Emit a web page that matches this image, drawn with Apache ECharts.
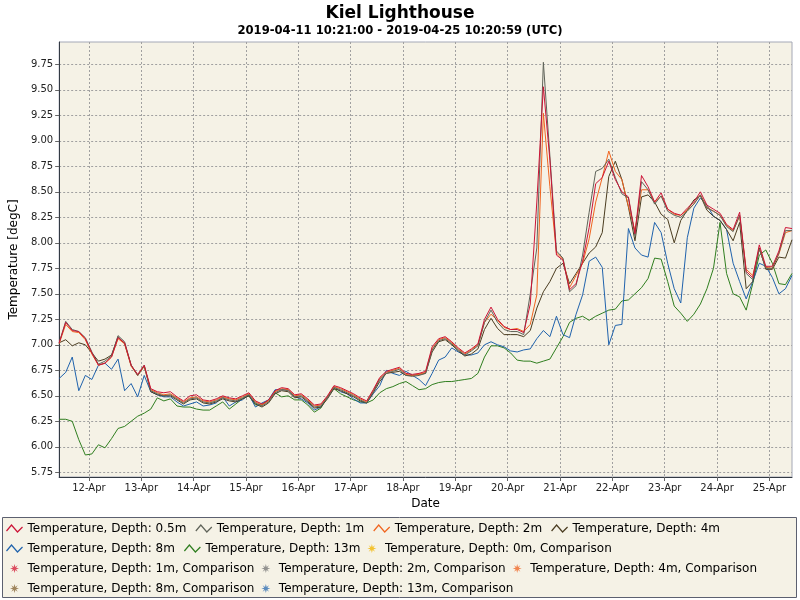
<!DOCTYPE html>
<html>
<head>
<meta charset="utf-8">
<script src="https://cdn.jsdelivr.net/npm/echarts@6/dist/echarts.min.js"></script>
<style>
html,body{margin:0;padding:0;background:#fff;}
#chart{width:800px;height:600px;}
</style>
</head>
<body>
<div id="chart"></div>
<script>
// ---------- DATA ----------
const START = Date.UTC(2019, 3, 11, 10, 21, 0);
const END = Date.UTC(2019, 3, 25, 10, 20, 59);
const STEP_HOURS = 3; // sampling grid of the values below (one value every 3 h from START)

const dayTickDates = ['2019-04-12','2019-04-13','2019-04-14','2019-04-15','2019-04-16','2019-04-17','2019-04-18',
  '2019-04-19','2019-04-20','2019-04-21','2019-04-22','2019-04-23','2019-04-24','2019-04-25'];
const dayTickLabels = ['12-Apr','13-Apr','14-Apr','15-Apr','16-Apr','17-Apr','18-Apr',
  '19-Apr','20-Apr','21-Apr','22-Apr','23-Apr','24-Apr','25-Apr'];
const yTicks = [5.75,6.00,6.25,6.50,6.75,7.00,7.25,7.50,7.75,8.00,8.25,8.50,8.75,9.00,9.25,9.50,9.75];

const depth05 = [
7.02,7.22,7.14,7.13,7.06,6.92,6.80,6.82,6.88,7.07,
7.02,6.80,6.71,6.80,6.57,6.54,6.53,6.54,6.49,6.45,
6.50,6.51,6.46,6.45,6.47,6.50,6.48,6.47,6.50,6.53,
6.45,6.42,6.46,6.55,6.58,6.57,6.51,6.52,6.47,6.41,
6.42,6.50,6.60,6.58,6.55,6.52,6.48,6.45,6.56,6.68,
6.74,6.76,6.78,6.72,6.71,6.72,6.74,6.98,7.06,7.08,
7.03,6.97,6.92,6.96,7.01,7.25,7.37,7.25,7.18,7.15,
7.15,7.12,7.40,8.40,9.53,8.81,7.88,7.83,7.54,7.60,
7.82,8.15,8.58,8.64,8.80,8.62,8.50,8.45,8.09,8.66,
8.55,8.40,8.49,8.33,8.29,8.27,8.34,8.40,8.50,8.37,
8.33,8.29,8.18,8.13,8.30,7.72,7.66,7.98,7.77,7.77,
7.92,8.15,8.14];
const depth1 = [
7.02,7.23,7.15,7.13,7.07,6.93,6.81,6.84,6.89,7.09,
7.03,6.80,6.70,6.80,6.55,6.52,6.50,6.51,6.47,6.43,
6.47,6.48,6.44,6.43,6.45,6.48,6.46,6.45,6.48,6.51,
6.43,6.40,6.44,6.53,6.56,6.55,6.49,6.50,6.45,6.39,
6.40,6.48,6.58,6.56,6.53,6.50,6.46,6.43,6.54,6.66,
6.72,6.74,6.76,6.70,6.69,6.70,6.72,6.95,7.04,7.06,
7.01,6.95,6.90,6.94,6.99,7.22,7.34,7.22,7.15,7.13,
7.13,7.10,7.50,7.95,9.77,8.85,7.92,7.85,7.52,7.58,
7.88,8.30,8.70,8.73,8.82,8.64,8.48,8.44,8.07,8.60,
8.52,8.38,8.46,8.31,8.27,8.25,8.31,8.38,8.47,8.34,
8.31,8.27,8.16,8.11,8.27,7.70,7.64,7.94,7.75,7.75,
7.90,8.12,8.12];
const depth2 = [
7.01,7.20,7.13,7.12,7.05,6.91,6.80,6.82,6.88,7.06,
7.01,6.79,6.70,6.79,6.56,6.53,6.51,6.52,6.48,6.44,
6.48,6.49,6.45,6.44,6.46,6.49,6.47,6.46,6.49,6.52,
6.44,6.41,6.45,6.54,6.57,6.56,6.50,6.51,6.46,6.40,
6.41,6.49,6.59,6.57,6.54,6.51,6.47,6.44,6.55,6.67,
6.73,6.75,6.77,6.71,6.70,6.71,6.73,6.96,7.05,7.07,
7.02,6.96,6.91,6.95,7.00,7.22,7.30,7.24,7.17,7.15,
7.16,7.13,7.20,7.49,9.27,8.55,7.90,7.84,7.56,7.68,
7.80,8.04,8.40,8.64,8.90,8.70,8.62,8.36,8.12,8.52,
8.52,8.40,8.46,8.33,8.28,8.27,8.32,8.38,8.47,8.35,
8.31,8.27,8.17,8.12,8.26,7.74,7.68,7.94,7.76,7.75,
7.89,8.10,8.12];
const depth4 = [
7.02,7.05,6.99,7.02,7.00,6.92,6.84,6.86,6.90,7.08,
7.01,6.80,6.70,6.79,6.54,6.51,6.50,6.50,6.46,6.42,
6.46,6.47,6.43,6.42,6.44,6.47,6.45,6.44,6.47,6.50,
6.42,6.39,6.43,6.52,6.55,6.54,6.48,6.49,6.44,6.38,
6.39,6.47,6.57,6.55,6.52,6.49,6.45,6.43,6.53,6.64,
6.72,6.73,6.74,6.70,6.70,6.71,6.72,6.93,7.03,7.05,
7.00,6.94,6.89,6.91,6.96,7.15,7.26,7.16,7.10,7.10,
7.10,7.08,7.14,7.36,7.52,7.62,7.75,7.80,7.60,7.70,
7.80,7.90,7.96,8.10,8.65,8.80,8.62,8.35,8.02,8.45,
8.47,8.40,8.28,8.23,8.00,8.22,8.32,8.42,8.46,8.32,
8.26,8.22,8.13,8.02,8.20,7.55,7.62,7.95,7.74,7.74,
7.86,7.85,8.03];
const depth8 = [
6.67,6.73,6.88,6.55,6.70,6.66,6.80,6.82,6.76,6.86,
6.55,6.62,6.49,6.70,6.54,6.51,6.49,6.49,6.44,6.40,
6.42,6.44,6.40,6.41,6.43,6.49,6.40,6.44,6.46,6.51,
6.39,6.43,6.46,6.56,6.56,6.56,6.49,6.47,6.43,6.36,
6.39,6.49,6.59,6.54,6.52,6.47,6.43,6.43,6.52,6.60,
6.75,6.72,6.70,6.74,6.70,6.66,6.60,6.72,6.85,6.88,
6.97,6.93,6.90,6.90,6.92,7.00,7.03,7.00,6.98,6.94,
6.93,6.95,6.96,7.06,7.14,7.08,7.28,7.10,7.07,7.30,
7.49,7.82,7.86,7.76,7.00,7.19,7.20,8.14,7.95,7.88,
7.86,8.20,8.10,7.80,7.55,7.41,8.05,8.34,8.44,8.37,
8.26,8.22,8.13,7.80,7.62,7.45,7.62,7.80,7.77,7.66,
7.50,7.55,7.68];
const depth13 = [
6.27,6.27,6.25,6.07,5.92,5.93,6.02,5.99,6.08,6.18,
6.20,6.25,6.30,6.33,6.37,6.48,6.45,6.47,6.40,6.39,
6.39,6.37,6.36,6.36,6.40,6.44,6.37,6.42,6.47,6.50,
6.41,6.41,6.46,6.53,6.49,6.50,6.46,6.46,6.41,6.34,
6.38,6.49,6.57,6.52,6.49,6.46,6.44,6.43,6.46,6.53,
6.57,6.59,6.62,6.64,6.60,6.56,6.57,6.61,6.63,6.64,
6.64,6.65,6.66,6.67,6.72,6.88,6.99,6.99,6.97,6.92,
6.85,6.84,6.84,6.82,6.84,6.86,6.97,7.08,7.22,7.26,
7.28,7.24,7.28,7.31,7.34,7.35,7.43,7.44,7.50,7.56,
7.65,7.85,7.84,7.62,7.38,7.31,7.23,7.30,7.40,7.55,
7.75,8.20,7.70,7.50,7.47,7.34,7.60,7.88,7.93,7.80,
7.60,7.59,7.70];

const lineSeriesNames = ['Temperature, Depth: 0.5m','Temperature, Depth: 1m','Temperature, Depth: 2m',
  'Temperature, Depth: 4m','Temperature, Depth: 8m','Temperature, Depth: 13m'];
const lineSeriesValues = [depth05, depth1, depth2, depth4, depth8, depth13];
const lineColors = ['#cc1336','#5f6359','#f0641e','#4a3c20','#1f62ac','#2f7e1f'];

const compNames = ['Temperature, Depth: 0m, Comparison','Temperature, Depth: 1m, Comparison',
  'Temperature, Depth: 2m, Comparison','Temperature, Depth: 4m, Comparison',
  'Temperature, Depth: 8m, Comparison','Temperature, Depth: 13m, Comparison'];
const compColors = ['#f2b705','#d4243f','#7a7a7a','#f06a2a','#8a6a3c','#3672b4'];

// ---------- BUILD ----------
const HOUR = 3600 * 1000;
function toPairs(vals) {
  return vals.map((v, i) => [START + i * STEP_HOURS * HOUR, v]);
}
const dayTickValues = dayTickDates.map(s => Date.parse(s + 'T00:00:00Z'));
const labelByValue = {};
dayTickValues.forEach((v, i) => labelByValue[v] = dayTickLabels[i]);

const LINE_ICON = 'path://M0,7 L5,1 L11,8 L16,3';
const STAR_ICON = 'path://M5,0 L5.9,3.2 L8.54,1.46 L6.8,4.1 L10,5 L6.8,5.9 L8.54,8.54 L5.9,6.8 L5,10 L4.1,6.8 L1.46,8.54 L3.2,5.9 L0,5 L3.2,4.1 L1.46,1.46 L4.1,3.2 Z';

const series = [];
// first series drawn last (on top)
for (let k = lineSeriesNames.length - 1; k >= 0; k--) {
  series.push({
    name: lineSeriesNames[k], type: 'line', data: toPairs(lineSeriesValues[k]),
    showSymbol: false, symbol: 'none', color: lineColors[k],
    lineStyle: { width: 1, color: lineColors[k] }, emphasis: { disabled: true }
  });
}
compNames.forEach((n, k) => {
  series.push({ name: n, type: 'scatter', data: [], color: compColors[k], itemStyle: { color: compColors[k] } });
});

const legendData = lineSeriesNames.map((n, k) => ({
  name: n, icon: LINE_ICON,
  itemStyle: { color: 'none', borderColor: lineColors[k], borderWidth: 1.2 }
})).concat(compNames.map((n, k) => ({
  name: n, icon: STAR_ICON, itemStyle: { color: compColors[k], borderWidth: 0 }
})));

const chart = echarts.init(document.getElementById('chart'), null, { renderer: 'canvas' });
chart.setOption({
  animation: false,
  backgroundColor: '#ffffff',
  textStyle: { fontFamily: 'DejaVu Sans' },
  title: {
    left: 'center', top: 0, itemGap: 3,
    text: 'Kiel Lighthouse',
    subtext: '2019-04-11 10:21:00 - 2019-04-25 10:20:59 (UTC)',
    textStyle: { fontFamily: 'DejaVu Sans', fontSize: 17, fontWeight: 'bold', color: '#000' },
    subtextStyle: { fontFamily: 'DejaVu Sans', fontSize: 11.6, fontWeight: 'bold', color: '#000' }
  },
  graphic: [{
    type: 'rect', z: -1, silent: true,
    shape: { x: 2.5, y: 517.5, width: 794, height: 80 },
    style: { fill: '#f5f2e6', stroke: '#5c6070', lineWidth: 1 }
  }],
  legend: {
    left: 4, right: 5, top: 522, padding: 0,
    itemGap: 7, itemWidth: 16, itemHeight: 9,
    textStyle: { fontFamily: 'DejaVu Sans', fontSize: 12, color: '#000', lineHeight: 13 },
    data: legendData,
    selectedMode: false
  },
  grid: {
    left: 57, right: 8, top: 42, bottom: 123,
    show: true, backgroundColor: '#f5f2e6', borderColor: '#a4a8b6', borderWidth: 1
  },
  xAxis: {
    type: 'value', min: START, max: END,
    name: 'Date', nameLocation: 'middle', nameGap: 16,
    nameTextStyle: { fontFamily: 'DejaVu Sans', fontSize: 12, color: '#000' },
    axisLine: { show: true, lineStyle: { color: '#333a44', width: 1 } },
    axisTick: { show: true, length: 4, customValues: dayTickValues, lineStyle: { color: '#666' } },
    axisLabel: {
      customValues: dayTickValues, fontSize: 10, color: '#222', margin: 6,
      formatter: v => labelByValue[v] || ''
    },
    splitLine: { show: true, lineStyle: { color: '#a0a0a0', type: [2, 2], width: 1 } }
  },
  yAxis: {
    type: 'value', min: 5.704, max: 9.969,
    name: 'Temperature [degC]', nameLocation: 'middle', nameGap: 29,
    nameTextStyle: { fontFamily: 'DejaVu Sans', fontSize: 12, color: '#000' },
    axisLine: { show: true, lineStyle: { color: '#333a44', width: 1 } },
    axisTick: { show: true, length: 4, customValues: yTicks, lineStyle: { color: '#666' } },
    axisLabel: {
      customValues: yTicks, fontSize: 10, color: '#222', margin: 6,
      formatter: v => Number(v).toFixed(2)
    },
    splitLine: { show: true, lineStyle: { color: '#a0a0a0', type: [2, 2], width: 1 } }
  },
  series: series
});
</script>
</body>
</html>
